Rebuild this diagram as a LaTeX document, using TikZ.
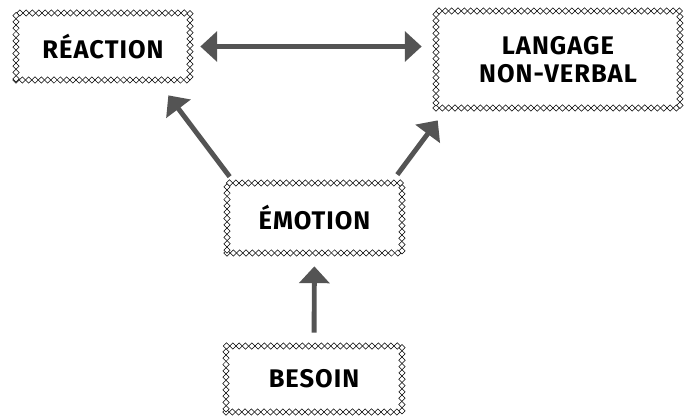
\documentclass[tikz,border=0pt]{standalone}
\usepackage{fontspec}
\setmainfont{Fira Sans}[LetterSpace=4]
\usepackage{tikz}
\usetikzlibrary{arrows.meta,decorations.markings}

\begin{document}
\begin{tikzpicture}[x=0.02cm,y=-0.02cm]
    \tikzstyle{cardbox}=[draw=white, align=center, font=\bfseries\fontsize{14.5}{16}\selectfont,
      postaction={decorate, decoration={markings,
        mark=between positions 0 and 1 step 3.6pt with
        {\draw[draw=black, line width=0.3pt, fill=white] (-1.8pt,0) -- (0,1.8pt) -- (1.8pt,0) -- (0,-1.8pt) -- cycle;}}}]
    \tikzstyle{bigarrow}=[draw=black!67, line width=2.8pt,
      arrows={-Triangle[width=17pt, length=9.6pt]}]

    \useasboundingbox (0,0) rectangle (691,416);

    \node[cardbox, minimum width=3.48cm, minimum height=1.34cm] (reaction) at (103,46.5) {RÉACTION};
    \node[cardbox, minimum width=4.88cm, minimum height=1.94cm] (langage) at (558,59.5) {LANGAGE\\NON-VERBAL};
    \node[cardbox, minimum width=3.5cm, minimum height=1.4cm] (emotion) at (314.5,218) {ÉMOTION};
    \node[cardbox, minimum width=3.52cm, minimum height=1.32cm] (besoin) at (314,379) {BESOIN};

    % links between the boxes
    \draw[bigarrow, arrows={Triangle[width=17pt, length=9.6pt]-Triangle[width=17pt, length=9.6pt]},
      shorten <=0.2cm, shorten >=0.28cm] (reaction) -- (reaction -| langage.west);
    \draw[bigarrow, shorten <=0.15cm, shorten >=0.376cm]
      ([xshift=0.15cm]emotion.north west) -- ([xshift=-0.666cm]reaction.south east);
    \draw[bigarrow, shorten <=0.2cm, shorten >=0.3cm]
      ([xshift=-0.22cm]emotion.north east) -- ([xshift=0.22cm]langage.south west);
    \draw[bigarrow, shorten <=0.26cm, shorten >=0.26cm] (besoin) -- (emotion);
\end{tikzpicture}
\end{document}
